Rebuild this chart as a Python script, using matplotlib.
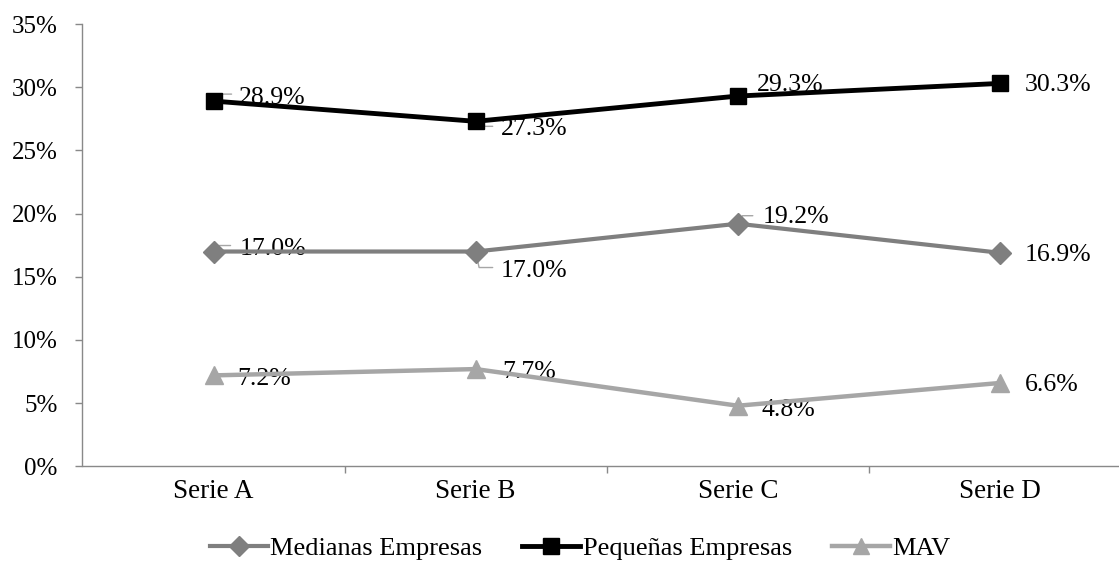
import matplotlib
matplotlib.use("Agg")
import matplotlib.pyplot as plt
from matplotlib.lines import Line2D

plt.rcParams['font.family'] = ['Liberation Serif', 'DejaVu Serif']

categories = ["Serie A", "Serie B", "Serie C", "Serie D"]
medianas = [17.0, 17.0, 19.2, 16.9]
pequenas = [28.9, 27.3, 29.3, 30.3]
mav = [7.2, 7.7, 4.8, 6.6]
y_ticks = [0, 5, 10, 15, 20, 25, 30, 35]
legend_labels = ["Medianas Empresas", "Pequeñas Empresas", "MAV"]

W, H = 1119, 565
fig = plt.figure(figsize=(W / 100, H / 100), dpi=100)
x0, x1 = 82.5, 1131.0
y0, y1 = 466.4, 24.0
ax = fig.add_axes([x0 / W, (H - y0) / H, (x1 - x0) / W, (y0 - y1) / H])

xs = list(range(len(categories)))
c_med, c_peq, c_mav = "#7f7f7f", "#000000", "#a6a6a6"

ax.plot(xs, medianas, color=c_med, lw=3.0, marker="D", ms=11,
        markeredgecolor=c_med, zorder=3, clip_on=False)
ax.plot(xs, pequenas, color=c_peq, lw=3.5, marker="s", ms=12,
        markeredgecolor=c_peq, zorder=4, clip_on=False)
ax.plot(xs, mav, color=c_mav, lw=3.2, marker="^", ms=12.5,
        markeredgecolor=c_mav, zorder=3, clip_on=False)

ax.set_xlim(-0.5, 3.5)
ax.set_ylim(0, 35)

# label offsets in pixels (dx, dy with y pointing down)
lab_off = {
    "peq": [(25, -3), (25, 8), (19, -11), (25, 2)],
    "med": [(26, -3), (25, 19), (25, -7), (25, 2)],
    "mav": [(24, 4), (27, 3), (24, 4), (25, 2)],
}
# leader lines: (index, end dx, end dy, angle at point)
leaders = {
    "peq": [(0, 18, -7, 50), (1, 17, 5, -65)],
    "med": [(0, 17, -6, 50), (1, 17, 16, -78), (2, 15, -8, 60)],
    "mav": [],
}
series = {"peq": pequenas, "med": medianas, "mav": mav}

for key, vals in series.items():
    for i, v in enumerate(vals):
        dx, dy = lab_off[key][i]
        ax.annotate(f"{v:.1f}%", xy=(i, v), xytext=(dx, -dy),
                    textcoords="offset pixels", ha="left", va="center",
                    fontsize=18.5, color="black", zorder=2.5,
                    annotation_clip=False)
    for (i, ex, ey, ang) in leaders[key]:
        v = vals[i]
        ax.annotate("", xy=(i, v), xytext=(ex, -ey), textcoords="offset pixels",
                    arrowprops=dict(arrowstyle="-", color="#a6a6a6", lw=1.0,
                                    shrinkA=0, shrinkB=0,
                                    connectionstyle=f"angle,angleA=0,angleB={ang},rad=0"),
                    zorder=2, annotation_clip=False)

# axes styling
for s in ["top", "right"]:
    ax.spines[s].set_visible(False)
for s in ["left", "bottom"]:
    ax.spines[s].set_color("#898989")
    ax.spines[s].set_linewidth(1.0)

ax.set_yticks(y_ticks)
ax.set_yticklabels([f"{t}%" for t in y_ticks])
ax.tick_params(axis="y", direction="out", length=5, width=1.0,
               color="#898989", labelsize=18, pad=13)

ax.set_xticks(xs)
ax.set_xticklabels(categories)
ax.tick_params(axis="x", length=0, labelsize=19.5, pad=9)
ax.set_xticks([0.5, 1.5, 2.5, 3.5], minor=True)
ax.tick_params(axis="x", which="minor", direction="out", length=5,
               width=1.0, color="#898989")

handles = [
    Line2D([], [], color=c_med, lw=3.0, marker="D", ms=10, markeredgecolor=c_med),
    Line2D([], [], color=c_peq, lw=3.5, marker="s", ms=12, markeredgecolor=c_peq),
    Line2D([], [], color=c_mav, lw=3.2, marker="^", ms=12, markeredgecolor=c_mav),
]
fig.legend(handles, legend_labels, loc="center", bbox_to_anchor=(580 / W, (H - 548) / H),
           ncol=3, frameon=False, fontsize=19, handlelength=2.2,
           handletextpad=0.1, columnspacing=1.5)

fig.savefig("out.png", dpi=100)
